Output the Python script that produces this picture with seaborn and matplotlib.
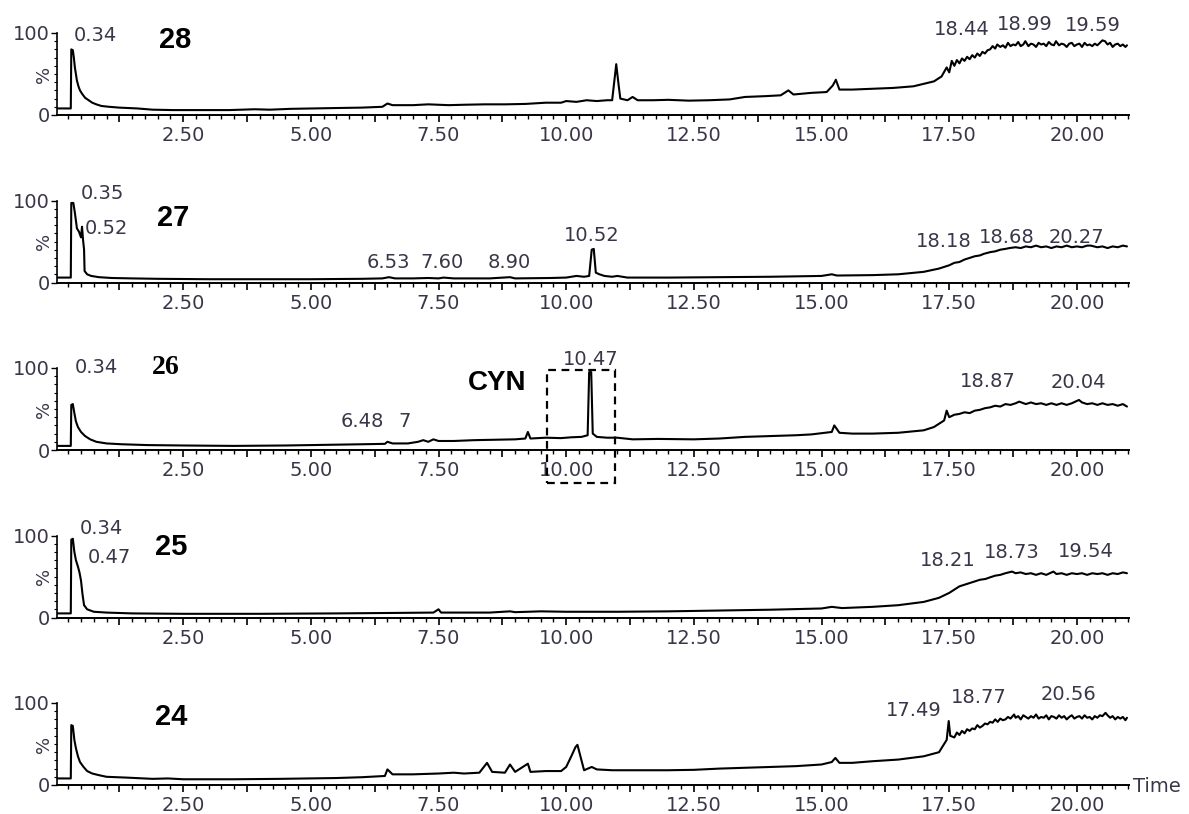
import numpy as np
import matplotlib
matplotlib.use("Agg")
import matplotlib.pyplot as plt
import seaborn as sns
from matplotlib.ticker import MultipleLocator, FuncFormatter
from matplotlib.patches import Rectangle

sns.set_style("ticks")
plt.rcParams["font.family"] = ["DejaVu Sans"]

# ---- chromatogram data: retention time (min) and relative intensity (%) ----
t28 = [0.03, 0.30, 0.31, 0.34, 0.36, 0.38, 0.40, 0.42, 0.45, 0.48, 0.52, 0.58, 0.65, 0.72, 0.80,
       0.90, 1.05, 1.25, 1.60, 1.90, 2.30, 2.90, 3.40, 3.90, 4.20, 4.60, 5.00, 5.50, 6.00, 6.40,
       6.50, 6.60, 7.00, 7.30, 7.70, 8.00, 8.40, 8.80, 9.20, 9.60, 9.90, 10.00, 10.20, 10.40, 10.60,
       10.80, 10.90, 10.95, 10.98, 11.02, 11.06, 11.20, 11.30, 11.40, 11.70, 12.00, 12.40, 12.80, 13.20,
       13.50, 13.90, 14.20, 14.35, 14.45, 14.80, 15.10, 15.22, 15.28, 15.35, 15.60, 16.00, 16.40, 16.80,
       17.00, 17.20, 17.35, 17.45, 17.50, 17.55, 17.60, 17.65, 17.70, 17.75, 17.80, 17.85, 17.90, 17.95,
       18.00, 18.05, 18.10, 18.15, 18.20, 18.25, 18.30, 18.35, 18.40, 18.44, 18.50, 18.55, 18.60, 18.65,
       18.70, 18.75, 18.80, 18.85, 18.90, 18.95, 18.99, 19.05, 19.10, 19.15, 19.20, 19.25, 19.30, 19.35,
       19.40, 19.45, 19.50, 19.55, 19.59, 19.65, 19.70, 19.75, 19.80, 19.85, 19.90, 19.95, 20.00, 20.05,
       20.10, 20.15, 20.20, 20.25, 20.30, 20.35, 20.40, 20.45, 20.50, 20.55, 20.60, 20.65, 20.70, 20.75,
       20.80, 20.85, 20.90, 20.95, 20.98]
s28 = [8, 8, 80, 79, 70, 58, 50, 42, 35, 30, 26, 21, 18, 15, 13,
       11, 10, 9, 8, 6.5, 6, 6, 6, 7, 6.5, 7.5, 8, 8.5, 9, 10,
       14, 12, 12, 13, 12, 12.5, 13, 13, 13.5, 15, 15, 17, 16, 18, 17,
       18, 18, 45, 62, 40, 20, 18, 22, 18, 18, 18.5, 17.5, 18, 19,
       22, 23, 24, 30, 25, 27, 28, 36, 43, 31, 31, 32, 33, 35,
       38, 41, 47, 58, 52, 66, 60, 67, 63, 69, 66, 71, 68, 73,
       70, 75, 72, 77, 75, 79, 80, 84, 81, 86, 83, 85, 82, 88,
       84, 86, 85, 89, 84, 86, 90, 84, 87, 86, 83, 88, 86, 87,
       84, 89, 86, 85, 90, 85, 87, 86, 83, 87, 88, 84, 86, 87,
       83, 88, 85, 86, 84, 87, 85, 88, 91, 90, 86, 88, 83, 86,
       87, 84, 86, 83, 85]

t27 = [0.03, 0.30, 0.31, 0.35, 0.38, 0.42, 0.46, 0.50, 0.52, 0.54, 0.56, 0.57, 0.62, 0.70, 0.85,
       1.10, 1.50, 2.00, 3.00, 4.00, 5.00, 6.00, 6.40, 6.53, 6.65, 7.00, 7.30, 7.50, 7.60, 7.80,
       8.50, 8.90, 9.00, 9.70, 10.00, 10.20, 10.35, 10.45, 10.50, 10.54, 10.58, 10.65, 10.75, 10.90, 11.00,
       11.20, 12.00, 13.00, 14.00, 15.00, 15.20, 15.30, 16.00, 16.50, 17.00, 17.30, 17.50, 17.60, 17.70,
       17.80, 17.90, 18.00, 18.10, 18.18, 18.30, 18.40, 18.50, 18.60, 18.68, 18.80, 18.90, 19.00, 19.10,
       19.20, 19.30, 19.40, 19.50, 19.60, 19.70, 19.80, 19.90, 20.00, 20.10, 20.20, 20.27, 20.40, 20.50,
       20.60, 20.70, 20.80, 20.90, 20.98]
s27 = [6, 6, 97, 97, 85, 66, 62, 55, 68, 52, 40, 14, 10, 8, 6.5,
       5.5, 5, 4.5, 4, 4, 4, 4.5, 5, 6.5, 5, 5, 5.5, 5, 6, 5,
       5, 6.5, 5, 5.5, 6, 8, 7, 8, 40, 41, 12, 10, 8, 7, 8,
       6, 6, 6.5, 7, 8, 10, 8.5, 9, 10, 13, 17, 21, 24, 25,
       28, 30, 32, 33, 35, 37, 38, 40, 41, 42, 43, 42, 44, 43,
       45, 43, 44, 42, 44, 43, 45, 43, 44, 43, 45, 45, 43, 44,
       42, 44, 43, 45, 44]

t26 = [0.03, 0.30, 0.31, 0.34, 0.37, 0.40, 0.44, 0.50, 0.58, 0.68, 0.80, 1.00, 1.30, 1.80, 2.50,
       3.50, 4.50, 5.50, 6.00, 6.45, 6.50, 6.60, 6.90, 7.10, 7.20, 7.30, 7.40, 7.50, 7.80, 8.20,
       8.60, 9.00, 9.20, 9.25, 9.30, 9.60, 9.90, 10.10, 10.30, 10.42, 10.45, 10.49, 10.52, 10.60, 10.80,
       11.00, 11.30, 11.80, 12.50, 13.00, 13.50, 14.00, 14.50, 14.80, 15.20, 15.25, 15.35, 15.60, 16.00,
       16.50, 17.00, 17.20, 17.40, 17.45, 17.50, 17.60, 17.70, 17.80, 17.90, 18.00, 18.10, 18.20, 18.30,
       18.40, 18.50, 18.60, 18.70, 18.80, 18.87, 19.00, 19.10, 19.20, 19.30, 19.40, 19.50, 19.60, 19.70,
       19.80, 19.90, 20.04, 20.10, 20.20, 20.30, 20.40, 20.50, 20.60, 20.70, 20.80, 20.90, 20.98]
s26 = [5, 5, 55, 56, 45, 35, 28, 22, 17, 13, 10, 8, 7, 6, 5.5,
       5, 5.5, 6.5, 7, 7.5, 10, 8, 8, 10, 12, 10, 13, 11, 11, 12,
       12.5, 13, 14, 22, 14, 15, 14.5, 15.5, 16, 18, 95, 95, 20, 16, 15,
       15, 13, 13.5, 13, 14, 16, 17, 18, 19, 22, 30, 21, 20, 20,
       21, 24, 28, 36, 48, 40, 43, 44, 46, 45, 48, 49, 51, 52,
       54, 53, 56, 55, 57, 59, 56, 58, 56, 57, 55, 57, 55, 57,
       55, 57, 61, 58, 56, 57, 55, 57, 55, 56, 54, 56, 53]

t25 = [0.03, 0.30, 0.31, 0.34, 0.37, 0.40, 0.44, 0.47, 0.50, 0.53, 0.56, 0.62, 0.75, 1.00, 1.50,
       2.50, 4.00, 5.50, 6.50, 7.40, 7.50, 7.55, 8.50, 8.90, 9.00, 9.50, 10.00, 11.00, 12.00, 13.00,
       14.00, 15.00, 15.20, 15.40, 16.00, 16.50, 17.00, 17.30, 17.50, 17.70, 17.90, 18.00, 18.10, 18.21,
       18.30, 18.40, 18.50, 18.60, 18.73, 18.80, 18.90, 19.00, 19.10, 19.20, 19.30, 19.40, 19.54, 19.60,
       19.70, 19.80, 19.90, 20.00, 20.10, 20.20, 20.30, 20.40, 20.50, 20.60, 20.70, 20.80, 20.90, 20.98]
s25 = [5, 5, 95, 96, 80, 70, 62, 55, 45, 28, 15, 10, 7, 6, 5,
       4.5, 4.5, 5, 5.5, 6, 10, 6, 6, 7.5, 6.5, 7.5, 7, 7, 7.5, 8.5,
       9.5, 11, 13, 11.5, 13, 15, 19, 24, 30, 38, 42, 44, 46, 47,
       49, 51, 52, 54, 56, 54, 55, 53, 54, 52, 54, 52, 56, 53,
       54, 52, 54, 53, 54, 52, 54, 53, 54, 52, 54, 53, 55, 54]

t24 = [0.03, 0.30, 0.31, 0.34, 0.37, 0.40, 0.44, 0.48, 0.55, 0.62, 0.72, 0.85, 1.00, 1.40, 1.90,
       2.20, 2.50, 3.50, 4.40, 5.00, 5.50, 6.00, 6.45, 6.50, 6.60, 7.00, 7.50, 7.80, 8.00, 8.30,
       8.45, 8.55, 8.80, 8.90, 9.00, 9.25, 9.30, 9.60, 9.90, 10.00, 10.10, 10.18, 10.22, 10.30, 10.35,
       10.50, 10.60, 10.90, 11.50, 12.00, 12.50, 13.00, 13.50, 14.00, 14.50, 15.00, 15.20, 15.27, 15.35,
       15.60, 16.00, 16.50, 17.00, 17.30, 17.45, 17.49, 17.52, 17.60, 17.65, 17.70, 17.75, 17.80, 17.85,
       17.90, 17.95, 18.00, 18.05, 18.10, 18.15, 18.20, 18.25, 18.30, 18.35, 18.40, 18.45, 18.50, 18.55,
       18.60, 18.65, 18.70, 18.77, 18.80, 18.85, 18.90, 18.95, 19.00, 19.05, 19.10, 19.15, 19.20, 19.25,
       19.30, 19.35, 19.40, 19.45, 19.50, 19.55, 19.60, 19.65, 19.70, 19.75, 19.80, 19.85, 19.90, 19.95,
       20.00, 20.05, 20.10, 20.15, 20.20, 20.25, 20.30, 20.35, 20.40, 20.45, 20.50, 20.56, 20.60, 20.65,
       20.70, 20.75, 20.80, 20.85, 20.90, 20.95, 20.98]
s24 = [8, 8, 73, 72, 55, 45, 35, 28, 22, 17, 14, 12, 10, 9, 7.5,
       8, 7, 7, 7.5, 8, 8.5, 9.5, 11, 19, 13, 13, 14, 15, 14, 15,
       27, 16, 15, 25, 16, 26, 16, 17, 17, 22, 35, 46, 49, 30, 18,
       22, 19, 18, 18, 18, 18.5, 20, 21, 22, 23, 25, 28, 33, 27,
       27, 29, 31, 35, 40, 55, 78, 60, 58, 64, 61, 66, 63, 68,
       66, 69, 68, 73, 70, 72, 75, 74, 77, 76, 80, 77, 81, 79,
       80, 83, 81, 86, 82, 84, 80, 85, 83, 81, 84, 82, 86, 81,
       83, 82, 85, 80, 84, 83, 81, 85, 82, 84, 80, 83, 85, 81,
       83, 84, 81, 85, 82, 83, 80, 84, 82, 85, 84, 88, 85, 82,
       84, 80, 83, 81, 83, 79, 82]

panel_times = [t28, t27, t26, t25, t24]
panel_signals = [s28, s27, s26, s25, s24]
panel_names = ["28", "27", "26", "25", "24"]

# peak labels per panel: (text, x in min, y in %)
peak_labels = [
    [("0.34", 0.78, 97), ("18.44", 17.75, 104), ("18.99", 18.97, 110), ("19.59", 20.32, 109)],
    [("0.35", 0.92, 109), ("0.52", 1.00, 66), ("6.53", 6.51, 24), ("7.60", 7.57, 24),
     ("8.90", 8.88, 24), ("10.52", 10.51, 57), ("18.18", 17.40, 50), ("18.68", 18.62, 55),
     ("20.27", 20.00, 55)],
    [("0.34", 0.80, 100), ("6.48", 6.00, 35), ("7", 6.83, 35), ("10.47", 10.47, 110),
     ("18.87", 18.26, 83), ("20.04", 20.03, 82)],
    [("0.34", 0.90, 109), ("0.47", 1.05, 73), ("18.21", 17.48, 70), ("18.73", 18.73, 79),
     ("19.54", 20.18, 80)],
    [("17.49", 16.80, 91), ("18.77", 18.07, 107), ("20.56", 19.83, 110)],
]
# panel tag positions (x in min, y in %)
tag_pos = [(2.34, 91), (2.30, 79), (2.15, 100), (2.27, 86), (2.27, 83)]

# dashed box around the CYN peak in panel 26: x range (min), y range (%)
box_x = (9.62, 10.96)
box_y = (-40, 97.6)

text_color = "#3b3548"
fig = plt.figure(figsize=(11.89, 8.14), dpi=100)
W, H = 1189.0, 814.0
left_px, right_px = 57.0, 1129.0
axis0_px, step_px, span_px = 115.0, 167.5, 82.0

axes = []
for k in range(5):
    y_axis = axis0_px + step_px * k
    ax = fig.add_axes([left_px / W, 1 - y_axis / H, (right_px - left_px) / W, span_px / H])
    axes.append(ax)
    df_t = np.asarray(panel_times[k], dtype=float)
    df_s = np.asarray(panel_signals[k], dtype=float)
    sns.lineplot(x=df_t, y=df_s, ax=ax, color="black", linewidth=1.5,
                 estimator=None, sort=False)
    ax.set_xlim(0.03, 21.02)
    ax.set_ylim(0, 100)
    for side in ("top", "right"):
        ax.spines[side].set_visible(False)
    ax.spines["left"].set_linewidth(1.2)
    ax.spines["bottom"].set_linewidth(1.4)
    ax.spines["left"].set_color("black")
    ax.spines["bottom"].set_color("black")

    ax.xaxis.set_major_locator(MultipleLocator(1.25))
    ax.xaxis.set_minor_locator(MultipleLocator(0.25))
    ax.xaxis.set_major_formatter(FuncFormatter(
        lambda v, p: f"{v:.2f}" if abs(v / 2.5 - round(v / 2.5)) < 1e-6 and v > 0.1 else ""))
    ax.set_yticks([0, 100])
    ax.set_yticklabels(["0", "100"])
    ax.yaxis.set_minor_locator(MultipleLocator(10))
    ax.tick_params(axis="x", which="major", length=5, width=1.2, color="black",
                   labelsize=14, labelcolor=text_color, pad=3)
    ax.tick_params(axis="x", which="minor", length=3, width=1.0, color="black")
    ax.tick_params(axis="y", which="major", length=4, width=1.0, color="black",
                   labelsize=14, labelcolor=text_color, pad=1)
    ax.tick_params(axis="y", which="minor", length=2.5, width=0.8, color="black")
    ax.set_xlabel("")
    ax.set_ylabel("")
    ax.text(-0.22, 50, "%", rotation=90, ha="center", va="center", fontsize=13,
            color=text_color, clip_on=False)

    for txt, x, y in peak_labels[k]:
        ax.text(x, y, txt, ha="center", va="center", fontsize=14, color=text_color,
                clip_on=False)

    tx, ty = tag_pos[k]
    if panel_names[k] == "26":
        ax.text(tx, ty, panel_names[k], ha="center", va="center", fontsize=20,
                fontweight="bold", family=["Liberation Serif"], color="black", clip_on=False)
    else:
        ax.text(tx, ty, panel_names[k], ha="center", va="center", fontsize=21,
                fontweight="bold", family=["Liberation Sans"], color="black", clip_on=False)

# CYN annotation with dashed box
ax26 = axes[2]
ax26.text(8.65, 82, "CYN", ha="center", va="center", fontsize=20, fontweight="bold",
          family=["Liberation Sans"], color="black", clip_on=False)
ax26.add_patch(Rectangle((box_x[0], box_y[0]), box_x[1] - box_x[0], box_y[1] - box_y[0],
                         fill=False, edgecolor="black", linewidth=1.6,
                         linestyle=(0, (3.5, 2.5)), clip_on=False, zorder=5))

# time axis title at the end of the bottom axis
axes[4].text(21.1, -2, "Time", ha="left", va="center", fontsize=14, color=text_color,
             clip_on=False)

fig.savefig("out.png", dpi=100)
